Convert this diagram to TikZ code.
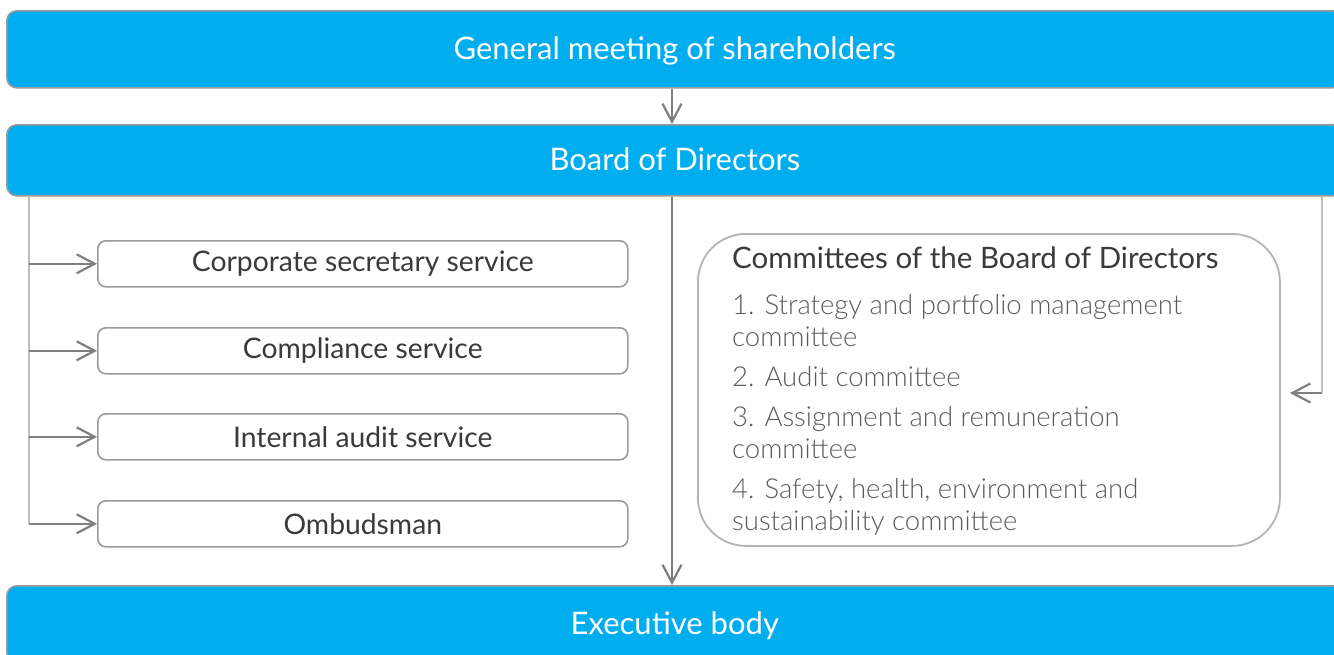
\documentclass[tikz,border=0pt]{standalone}
\usepackage{fontspec}
\setmainfont{Lato}
\newfontfamily\lightfont{Lato Light}
\usetikzlibrary{arrows.meta}
\definecolor{brand}{HTML}{00AEEF}
\definecolor{edge}{HTML}{9A9A9A}
\definecolor{lightedge}{HTML}{B4B4B4}
\definecolor{linkdark}{HTML}{7F7F7F}
\definecolor{linklight}{HTML}{BDBDBD}
\definecolor{textdark}{HTML}{3A3A3A}
\definecolor{textlight}{HTML}{5C5C5C}
\tikzset{
  bluebox/.style={draw=edge, line width=1.6pt, fill=brand, rounded corners=10pt,
    anchor=north west, inner sep=0pt, text=white, text depth=2pt,
    font=\fontsize{31}{36}\selectfont},
  servicebox/.style={draw=edge, line width=1.6pt, fill=white, rounded corners=8pt,
    anchor=north west, inner sep=0pt, minimum width=530pt, minimum height=46pt,
    text=textdark, font=\fontsize{28.3}{32}\selectfont},
  commbox/.style={draw=lightedge, line width=1.8pt, fill=white, rounded corners=48pt,
    anchor=north west, inner sep=0pt},
  commhead/.style={anchor=base west, inner sep=0pt, text=textdark,
    font=\fontsize{29.5}{34}\selectfont},
  commitem/.style={anchor=base west, inner sep=0pt, text=textlight,
    font=\lightfont\fontsize{27.5}{32}\selectfont},
  link/.style={draw=linkdark, line width=2.2pt,
    -{Straight Barb[length=18pt,width=19pt]}},
  trunk/.style={draw=linklight, line width=1.5pt},
}
\begin{document}
\begin{tikzpicture}[x=1pt,y=-1pt]
\useasboundingbox (0,0) rectangle (1334,654);

% governing bodies
\node[bluebox, minimum width=1336pt, minimum height=77pt] (gm) at (6,10)
  {General meeting of shareholders};
\node[bluebox, minimum width=1336pt, minimum height=71pt] (board) at (6,124)
  {Board of Directors};
\node[bluebox, minimum width=1336pt, minimum height=77pt] (exec) at (6,585)
  {Executive body};

% services reporting to the board
\node[servicebox] (sec) at (97,240) {Corporate secretary service};
\node[servicebox] (comp) at (97,327) {Compliance service};
\node[servicebox] (audit) at (97,413) {Internal audit service};
\node[servicebox] (omb) at (97,500) {Ombudsman};

% committees
\node[commbox, minimum width=582pt, minimum height=312pt] (comm) at (697,233) {};
\node[commhead] (ch) at (732,268) {Committees of the Board of Directors};
\node[commitem] (c1a) at (732,314) {1. Strategy and portfolio management};
\node[commitem] (c1b) at (732,346) {committee};
\node[commitem] (c2)  at (732,386) {2. Audit committee};
\node[commitem] (c3a) at (732,426) {3. Assignment and remuneration};
\node[commitem] (c3b) at (732,458) {committee};
\node[commitem] (c4a) at (732,498) {4. Safety, health, environment and};
\node[commitem] (c4b) at (732,530) {sustainability committee};

% connectors
\coordinate (ltop) at (29,196);
\coordinate (rtop) at (1322,196);
\coordinate (rbend) at (1322,393);
\coordinate (rtip) at (1290,393);

\draw[link] (gm.south -| 672,0) -- (board.north -| 672,0);
\draw[link] (board.south -| 672,0) -- (exec.north -| 672,0);

\draw[trunk] (ltop) -- (omb.west -| ltop);
\foreach \s in {sec,comp,audit,omb}
  \draw[link] (\s.west -| ltop) -- (\s.west);

\draw[trunk] (rtop) -- (rbend);
\draw[link] (rbend) -- (rtip);
\end{tikzpicture}
\end{document}
